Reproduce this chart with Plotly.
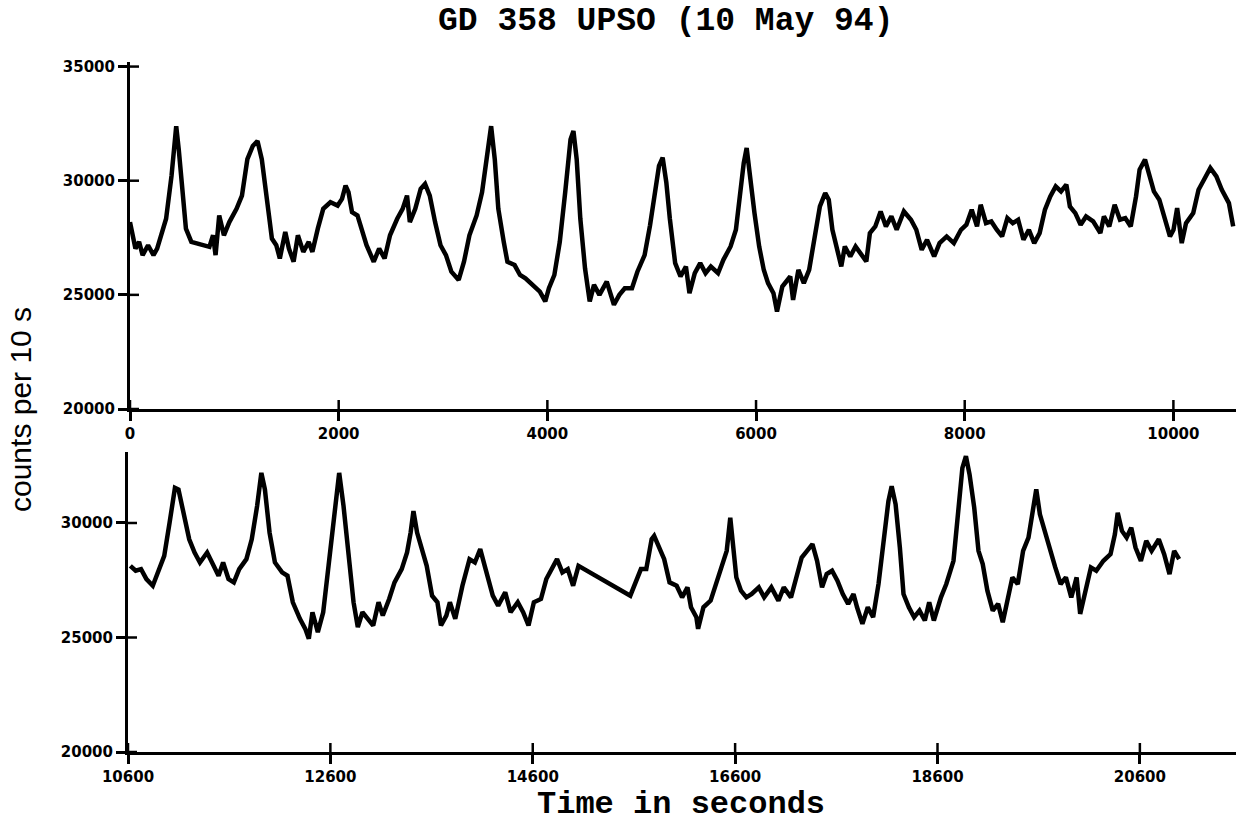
import plotly.graph_objects as go

# ---------------- data ----------------
top_t = [0, 52, 87, 121, 173, 225, 260, 294, 346, 398, 443, 467, 502, 536, 588, 640, 709, 761, 796, 820,
         855, 900, 952, 1021, 1073, 1125, 1177, 1222, 1263, 1298, 1315, 1332, 1360, 1402, 1436, 1488, 1523,
         1568, 1609, 1661, 1713, 1748, 1800, 1852, 1921, 1990, 2032, 2066, 2094, 2128, 2180, 2225, 2267,
         2336, 2388, 2440, 2492, 2561, 2613, 2655, 2682, 2734, 2786, 2828, 2873, 2924, 2976, 3028, 3080,
         3150, 3201, 3253, 3322, 3374, 3426, 3461, 3496, 3530, 3582, 3617, 3686, 3738, 3790, 3859, 3928,
         3980, 4015, 4067, 4119, 4171, 4222, 4250, 4281, 4316, 4361, 4406, 4447, 4499, 4569, 4638, 4690,
         4742, 4811, 4863, 4932, 4984, 5036, 5070, 5105, 5140, 5174,
         5225, 5276, 5328, 5362, 5413, 5465, 5516, 5567, 5636, 5687, 5756, 5807, 5841, 5882, 5910, 5944,
         5985, 6030, 6074, 6115, 6167, 6201, 6252, 6328, 6355, 6406, 6458, 6509, 6560, 6612, 6663, 6697,
         6732, 6766, 6817, 6851, 6903, 6954, 7005, 7057, 7091, 7143, 7194, 7245, 7297, 7348, 7417, 7485,
         7536, 7588, 7639, 7707, 7759, 7827, 7896, 7964, 8016, 8067, 8118, 8153, 8204, 8255, 8307, 8358,
         8409, 8461, 8512, 8563, 8615, 8666, 8718, 8769, 8820, 8872, 8923, 8974, 9008, 9060, 9111, 9163,
         9231, 9300, 9334, 9385, 9437, 9488, 9539, 9591, 9642, 9676, 9728, 9772, 9813, 9865, 9916, 9967,
         10001, 10036, 10080, 10121, 10190, 10241, 10293, 10354, 10412, 10464, 10532, 10573]
top_counts = [28188, 27029, 27319, 26739, 27174, 26739, 27029, 27609, 28333, 30217, 32391, 31376, 29493,
              27899, 27319, 27246, 27174, 27102, 27609, 26739, 28478, 27609, 28188, 28768, 29348, 30942,
              31521, 31738, 30942, 29782, 29348, 28478, 27464, 27174, 26595, 27754, 27029, 26450, 27609,
              26884, 27319, 26884, 27899, 28768, 29058, 28913, 29203, 29782, 29493, 28623, 28478, 27754,
              27174, 26450, 27029, 26595, 27609, 28333, 28768, 29348, 28188, 28768, 29638, 29855, 29348,
              28188, 27174, 26739, 26015, 25653, 26450, 27609, 28478, 29493, 31231, 32391, 30942, 28768,
              27319, 26450, 26305, 25870, 25725, 25435, 25145, 24711, 25290, 25870, 27319, 29493, 31811,
              32173, 30942, 28333, 26160, 24711, 25435, 25000, 25580, 24566, 25000, 25290, 25290, 26015,
              26739, 28044, 29493, 30652, 31014, 29927, 28333,
              26389, 25804, 26243, 25073, 25950, 26389, 25950, 26243, 25950, 26535, 27120, 27851, 29313,
              30775, 31433, 30044, 28582, 27120, 26097, 25512, 25073, 24269, 25365, 25804, 24780, 26097,
              25512, 26097, 27558, 28874, 29459, 29167, 27851, 27120, 26243, 27120, 26681, 27120, 26827,
              26462, 27705, 27997, 28655, 27997, 28436, 27851, 28655, 28290, 27851, 26974, 27412, 26681,
              27266, 27558, 27266, 27851, 28070, 28728, 27997, 28947, 28143, 28216, 27851, 27558, 28363,
              28143, 28290, 27412, 27851, 27266, 27705, 28728, 29313, 29752, 29532, 29825, 28874, 28582,
              28070, 28436, 28216, 27705, 28436, 27997, 28947, 28290, 28363, 27997, 29313, 30483, 30921,
              30190, 29532, 29167, 28290, 27558, 27851, 28801, 27266, 28143, 28582, 29605, 30044, 30556,
              30190, 29605, 29020, 27997]

bot_t = [10623, 10676, 10729, 10782, 10845, 10905, 10958, 11011, 11064, 11099, 11152, 11205, 11258, 11311,
         11382, 11435, 11495, 11540, 11593, 11646, 11699, 11770, 11823, 11876, 11918, 11953, 11999, 12052,
         12123, 12176, 12229, 12299, 12352, 12387, 12423, 12476, 12529, 12582, 12634, 12687, 12730, 12776,
         12829, 12871, 12917, 12970, 13023, 13076, 13118, 13181, 13234, 13305, 13358, 13393, 13421, 13457,
         13499, 13552, 13605, 13658, 13693, 13746, 13781, 13834, 13905, 13975, 14028, 14081, 14134, 14205,
         14258, 14328, 14381, 14452, 14505, 14558, 14611, 14681, 14734, 14787, 14840, 14893, 14946, 14999,
         15052, 15564, 15634, 15669, 15722, 15775, 15800, 15846, 15899, 15952, 16022,
         16076, 16129, 16164, 16217, 16234, 16287, 16358, 16411, 16464, 16517, 16552, 16580, 16612, 16658,
         16711, 16764, 16834, 16887, 16958, 17028, 17081, 17152, 17205, 17258, 17311, 17364, 17410, 17459,
         17505, 17558, 17611, 17664, 17717, 17770, 17805, 17858, 17911, 17964, 18017, 18069, 18115, 18147,
         18186, 18228, 18264, 18317, 18369, 18422, 18475, 18518, 18564, 18634, 18687, 18758, 18811, 18846,
         18881, 18917, 18963, 19005, 19047, 19093, 19146, 19199, 19245, 19287, 19340, 19393, 19446, 19499,
         19534, 19576, 19612, 19658, 19711, 19764, 19817, 19869, 19922, 19975, 20010, 20063, 20116, 20169,
         20240, 20310, 20353, 20381, 20423, 20469, 20515, 20557, 20610, 20663, 20716, 20787, 20840, 20893,
         20939, 20988]
bot_counts = [28131, 27914, 27986, 27552, 27262, 27986, 28566, 30015, 31536, 31464, 30450, 29290, 28711,
              28276, 28711, 28276, 27697, 28276, 27552, 27407, 27986, 28421, 29290, 30740, 32188, 31464,
              29580, 28276, 27842, 27697, 26537, 25813, 25378, 24944, 26103, 25233, 26103, 28131, 30305,
              32188, 30740, 28566, 26537, 25450, 26103, 25813, 25523, 26537, 25958, 26682, 27407, 27986,
              28711, 29580, 30522, 29580, 28856, 28131, 26827, 26537, 25523, 25958, 26537, 25813, 27262,
              28421, 28276, 28856, 27986, 26827, 26392, 26972, 26103, 26537, 26103, 25523, 26537, 26682,
              27552, 27986, 28421, 27842, 27986, 27262, 28131, 26827, 27552, 27986, 27986, 29290, 29435,
              29000, 28421, 27407, 27262,
              26755, 27190, 26321, 25886, 25379, 26321, 26611, 27335, 28204, 28784, 30233, 29074, 27625,
              27045, 26755, 26900, 27190, 26755, 27190, 26611, 27190, 26755, 27625, 28494, 28784, 29074,
              28349, 27190, 27770, 27915, 27480, 26900, 26466, 26900, 26321, 25596, 26321, 25886, 27335,
              29074, 30958, 31610, 30813, 28929, 26900, 26321, 25886, 26176, 25741, 26538, 25741, 26755,
              27335, 28349, 30523, 32407, 32914, 32117, 30668, 28784, 28204, 27045, 26176, 26466, 25669,
              26466, 27625, 27335, 28784, 29364, 30233, 31465, 30378, 29654, 28784, 28059, 27335, 27625,
              26755, 27625, 26031, 27045, 28059, 27915, 28349, 28639, 29509, 30450, 29654, 29364, 29799,
              28929, 28349, 29219, 28784, 29291, 28639, 27770, 28784, 28422]

top_xticks = [0, 2000, 4000, 6000, 8000, 10000]
bot_xticks = [10600, 12600, 14600, 16600, 18600, 20600]
top_yticks = [20000, 25000, 30000, 35000]
bot_yticks = [20000, 25000, 30000]

title_text = "GD 358 UPSO (10 May 94)"
xlabel_text = "Time in seconds"
ylabel_text = "counts per 10 s"

# ---------------- figure ----------------
W, H = 1239, 827
TICKLEN = 9


def px(xp):
    return xp / W


def py(yp):
    return 1 - yp / H


line = dict(color="black", width=4.5)

fig = go.Figure()
fig.add_trace(go.Scatter(x=top_t, y=top_counts, mode="lines", line=line, xaxis="x", yaxis="y",
                         showlegend=False, hoverinfo="skip"))
fig.add_trace(go.Scatter(x=bot_t, y=bot_counts, mode="lines", line=line, xaxis="x2", yaxis="y2",
                         showlegend=False, hoverinfo="skip"))

tickfont = dict(family="DejaVu Sans", size=15, color="black", weight="bold")

panels = {
    "top": dict(xdom=[px(130), px(1236)], ydom=[py(409), py(62)], xr=[0, 10600], yr=[20000, 35200],
                xticks=top_xticks, yticks=top_yticks, xa="x", ya="y"),
    "bot": dict(xdom=[px(128), px(1236)], ydom=[py(752), py(452)], xr=[10600, 21550],
                yr=[20000, 33100], xticks=bot_xticks, yticks=bot_yticks, xa="x2", ya="y2"),
}


def axis(dom, rng, anchor, ticks):
    return dict(domain=dom, range=rng, anchor=anchor, tickmode="array", tickvals=ticks,
                ticktext=[str(v) for v in ticks], showgrid=False, zeroline=False, showline=True,
                linecolor="black", linewidth=3, ticks="outside", ticklen=TICKLEN, tickwidth=2.5,
                tickcolor="black", tickfont=tickfont, automargin=False, fixedrange=True)


# inner half of the "+" shaped tick marks, placed at the tick values of each axis
shapes = []
for p in panels.values():
    wpx = (p["xdom"][1] - p["xdom"][0]) * W
    hpx = (p["ydom"][1] - p["ydom"][0]) * H
    for v in p["xticks"]:
        shapes.append(dict(type="line", xref=p["xa"], yref=p["ya"] + " domain", x0=v, x1=v,
                           y0=0, y1=TICKLEN / hpx, line=dict(color="black", width=2.5)))
    for v in p["yticks"]:
        shapes.append(dict(type="line", xref=p["xa"] + " domain", yref=p["ya"], x0=0,
                           x1=TICKLEN / wpx, y0=v, y1=v, line=dict(color="black", width=2.5)))

pt, pb = panels["top"], panels["bot"]
fig.update_layout(
    width=W, height=H, margin=dict(l=0, r=0, t=0, b=0, autoexpand=False),
    paper_bgcolor="white", plot_bgcolor="white",
    xaxis=axis(pt["xdom"], pt["xr"], "y", pt["xticks"]),
    yaxis=axis(pt["ydom"], pt["yr"], "x", pt["yticks"]),
    xaxis2=axis(pb["xdom"], pb["xr"], "y2", pb["xticks"]),
    yaxis2=axis(pb["ydom"], pb["yr"], "x2", pb["yticks"]),
    shapes=shapes,
    annotations=[
        dict(text=title_text, x=px(665), y=py(22), xref="paper", yref="paper", showarrow=False,
             xanchor="center", yanchor="middle",
             font=dict(family="Liberation Mono", size=33, color="black", weight="bold")),
        dict(text=xlabel_text, x=px(681), y=py(804), xref="paper", yref="paper", showarrow=False,
             xanchor="center", yanchor="middle",
             font=dict(family="Liberation Mono", size=32, color="black", weight="bold")),
        dict(text=ylabel_text, x=px(21), y=py(410), xref="paper", yref="paper", showarrow=False,
             xanchor="center", yanchor="middle", textangle=-90,
             font=dict(family="Liberation Sans", size=30, color="black")),
    ],
)

fig.write_html("out.html", config={"displayModeBar": False},
               post_script="document.body.style.margin='0px';")
